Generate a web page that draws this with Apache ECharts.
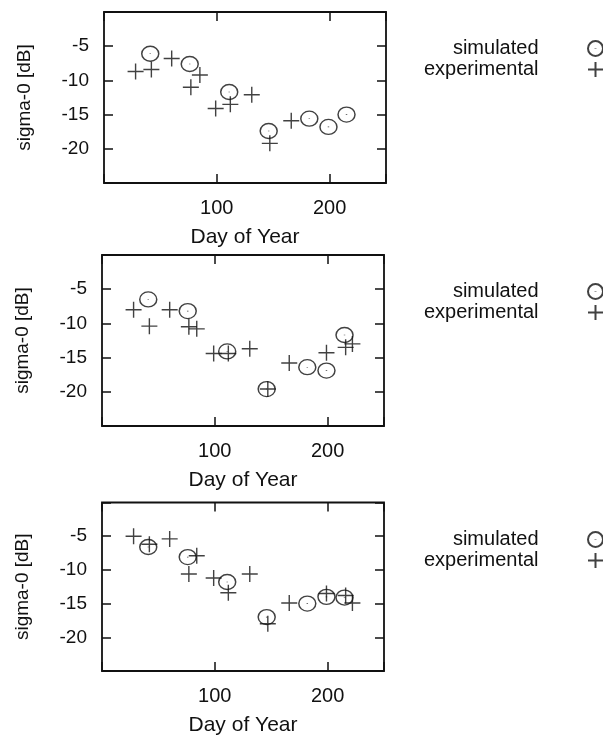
<!DOCTYPE html>
<html>
<head>
<meta charset="utf-8">
<script src="https://cdn.jsdelivr.net/npm/echarts@6/dist/echarts.min.js"></script>
<style>
html,body{margin:0;padding:0;background:#fff;}
#chart{width:603px;height:737px;}
</style>
</head>
<body>
<div id="chart"></div>
<script>
// ---- data ----
const legendNames = ['simulated', 'experimental'];
const xTickLabels = ['100', '200'];
const yTickLabels = ['-5', '-10', '-15', '-20'];

const simDays = [41, 76, 111, 146, 182, 199, 215];
const expDays1 = [28, 42, 60, 77, 85, 99, 112, 131, 147, 166];
const expDays = [28, 42, 60, 77, 84, 99, 112, 131, 147, 166, 199, 216, 222];

const simPanel1 = [-6.1, -7.6, -11.7, -17.4, -15.6, -16.8, -15.0];
const expPanel1 = [-8.7, -8.4, -6.8, -11.0, -9.2, -14.1, -13.5, -12.1, -19.2, -15.9];

const simPanel2 = [-6.5, -8.2, -14.1, -19.6, -16.4, -16.9, -11.7];
const expPanel2 = [-8.0, -10.4, -8.0, -10.5, -10.8, -14.4, -14.4, -13.7, -19.6, -15.8, -14.3, -13.5, -13.0];

const simPanel3 = [-6.6, -8.1, -11.8, -17.0, -15.0, -14.0, -14.1];
const expPanel3 = [-5.0, -6.2, -5.4, -10.6, -7.9, -11.2, -13.4, -10.6, -18.0, -14.9, -13.5, -13.8, -14.9];

const panels = [
  { sim: [simDays, simPanel1], exp: [expDays1, expPanel1] },
  { sim: [simDays, simPanel2], exp: [expDays, expPanel2] },
  { sim: [simDays, simPanel3], exp: [expDays, expPanel3] }
];

// ---- layout / style ----
const INK = '#111';
const FONT = 'Liberation Sans, Arial, Helvetica, sans-serif';
const gridTops = [12, 255, 502.5];
const gridLefts = [104, 102, 102];
const legendTops = [33, 276, 524];

const circleSym = 'path://M0,10A10,10,0,1,1,20,10A10,10,0,1,1,0,10ZM10,9.6L10,10.4';
const plusSym = 'path://M0,10L20,10M10,0L10,20';

const zip = (xs, ys) => xs.map((x, i) => [x, ys[i]]);

const grid = [], xAxis = [], yAxis = [], series = [], legend = [];

const makeTick = () => ({ show: true, inside: true, length: 9, lineStyle: { color: INK, width: 1.5 } });
const noLine = () => ({ show: false, onZero: false });

panels.forEach((p, i) => {
  grid.push({
    left: gridLefts[i], top: gridTops[i], width: 282, height: 171,
    show: true, borderColor: INK, borderWidth: 1.8, backgroundColor: 'transparent'
  });
  // bottom x axis
  xAxis.push({
    gridIndex: i, type: 'value', min: 0, max: 250, interval: 100, position: 'bottom',
    axisLine: noLine(), splitLine: { show: false }, axisTick: makeTick(),
    axisLabel: {
      margin: 15, color: INK, fontFamily: FONT, fontSize: 20,
      formatter: v => (xTickLabels.indexOf(String(v)) >= 0 ? String(v) : '')
    },
    name: 'Day of Year', nameLocation: 'middle', nameGap: 44,
    nameTextStyle: { color: INK, fontFamily: FONT, fontSize: 21 }
  });
  // top mirror x axis
  xAxis.push({
    gridIndex: i, type: 'value', min: 0, max: 250, interval: 100, position: 'top',
    axisLine: noLine(), splitLine: { show: false }, axisTick: makeTick(),
    axisLabel: { show: false }
  });
  // left y axis
  yAxis.push({
    gridIndex: i, type: 'value', min: -25, max: 0, interval: 5, position: 'left',
    axisLine: noLine(), splitLine: { show: false }, axisTick: makeTick(),
    axisLabel: {
      margin: 15, color: INK, fontFamily: FONT, fontSize: 19,
      formatter: v => (yTickLabels.indexOf(String(v)) >= 0 ? String(v) : '')
    },
    name: 'sigma-0 [dB]', nameLocation: 'middle', nameGap: 70,
    nameTextStyle: { color: INK, fontFamily: FONT, fontSize: 19 }
  });
  // right mirror y axis
  yAxis.push({
    gridIndex: i, type: 'value', min: -25, max: 0, interval: 5, position: 'right',
    axisLine: noLine(), splitLine: { show: false }, axisTick: makeTick(),
    axisLabel: { show: false }
  });

  series.push({
    name: legendNames[0], type: 'scatter', xAxisIndex: 2 * i, yAxisIndex: 2 * i,
    symbol: circleSym, symbolSize: [17, 15],
    itemStyle: { color: 'transparent', borderColor: INK, borderWidth: 1.4 },
    data: zip(p.sim[0], p.sim[1]), z: 3
  });
  series.push({
    name: legendNames[1], type: 'scatter', xAxisIndex: 2 * i, yAxisIndex: 2 * i,
    symbol: plusSym, symbolSize: [16, 16],
    itemStyle: { color: 'transparent', borderColor: INK, borderWidth: 1.4 },
    data: zip(p.exp[0], p.exp[1]), z: 4
  });

  legend.push({
    orient: 'vertical', align: 'right', right: -6, top: legendTops[i],
    itemWidth: 16, itemHeight: 15, itemGap: 0,
    data: legendNames.map(n => ({ name: n })),
    textStyle: { color: INK, fontFamily: FONT, fontSize: 20, lineHeight: 21, padding: [0, 44, 0, 0] },
    selectedMode: false
  });
});

const chart = echarts.init(document.getElementById('chart'), null, { renderer: 'canvas' });
chart.setOption({
  animation: false,
  backgroundColor: '#fff',
  grid, xAxis, yAxis, series, legend
});
</script>
</body>
</html>
